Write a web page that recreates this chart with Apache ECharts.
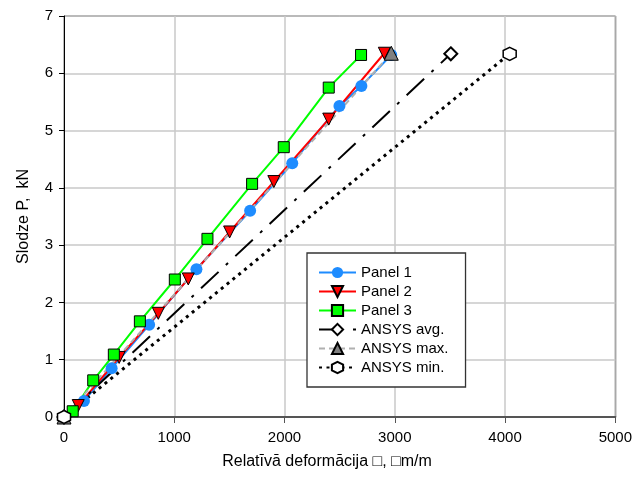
<!DOCTYPE html>
<html><head><meta charset="utf-8">
<script src="https://cdn.jsdelivr.net/npm/echarts@6/dist/echarts.min.js"></script>
<style>html,body{margin:0;padding:0;background:#fff}#c{width:635px;height:497px}</style>
</head><body><div id="c"></div>
<script>
const xTicks = [0, 1000, 2000, 3000, 4000, 5000];
const yTicks = [0, 1, 2, 3, 4, 5, 6, 7];
const seriesNames = ['Panel 1', 'Panel 2', 'Panel 3', 'ANSYS avg.', 'ANSYS max.', 'ANSYS min.'];
const panel1X = [181, 432, 772, 1201, 1688, 2070, 2498, 2697, 2968];
const panel1Y = [0.28, 0.85, 1.61, 2.58, 3.60, 4.43, 5.43, 5.78, 6.32];
const panel2X = [129, 500, 855, 1127, 1502, 1903, 2401, 2905];
const panel2Y = [0.20, 1.04, 1.81, 2.41, 3.23, 4.11, 5.20, 6.35];
const panel3X = [79, 265, 452, 688, 1005, 1301, 1706, 1993, 2401, 2694];
const panel3Y = [0.10, 0.64, 1.09, 1.67, 2.40, 3.11, 4.07, 4.71, 5.75, 6.32];
const ansysAvgX = [0, 3508];
const ansysAvgY = [0, 6.34];
const ansysMaxX = [0, 2968];
const ansysMaxY = [0, 6.35];
const ansysMinX = [0, 4042];
const ansysMinY = [0, 6.34];

const pair = (xs, ys) => xs.map((x, i) => [x, ys[i]]);
const FONT = '"Liberation Sans", Arial, sans-serif';
const hexagon = 'path://M0,-1L0.866,-0.5L0.866,0.5L0,1L-0.866,0.5L-0.866,-0.5Z';

const chart = echarts.init(document.getElementById('c'), null, {renderer: 'canvas'});
chart.setOption({
  animation: false,
  backgroundColor: '#fff',
  textStyle: {fontFamily: FONT},
  title: [{
    text: 'Relatīvā deformācija \u25A1, \u25A1m/m',
    left: 322, top: 449, textAlign: 'center',
    textStyle: {fontFamily: FONT, fontSize: 16, fontWeight: 'normal', color: '#000'}
  }],
  grid: {left: 64, right: 18, top: 16, bottom: 80, show: true, borderColor: '#222', borderWidth: 1, backgroundColor: '#fff'},
  legend: {
    orient: 'vertical', left: 307, top: 253,
    padding: [12, 17, 12, 11], itemGap: 4, itemWidth: 37, itemHeight: 14,
    backgroundColor: '#fff', borderColor: '#333', borderWidth: 1.3,
    textStyle: {fontFamily: FONT, fontSize: 15, color: '#000'},
    data: seriesNames
  },
  xAxis: {
    type: 'value', min: xTicks[0], max: xTicks[xTicks.length - 1], interval: 1000,
    axisLine: {onZero: false, lineStyle: {color: '#555', width: 2}},
    axisTick: {show: true, inside: false, length: 6, lineStyle: {color: '#555', width: 1}},
    axisLabel: {margin: 13, fontSize: 15, color: '#000', fontFamily: FONT, formatter: v => String(v)},
    splitLine: {show: true, lineStyle: {color: '#c8c8c8', width: 1.5}}
  },
  yAxis: {
    type: 'value', min: yTicks[0], max: yTicks[yTicks.length - 1], interval: 1,
    name: 'Slodze P,  kN', nameLocation: 'middle', nameGap: 32,
    nameTextStyle: {fontFamily: FONT, fontSize: 16, color: '#000'},
    axisLine: {onZero: false, lineStyle: {color: '#000', width: 1}},
    axisTick: {show: true, inside: false, length: 5, lineStyle: {color: '#000'}},
    axisLabel: {margin: 11, fontSize: 15, color: '#000', fontFamily: FONT, formatter: v => String(v)},
    splitLine: {show: true, lineStyle: {color: '#c8c8c8', width: 1.5}}
  },
  series: [
    {name: seriesNames[0], type: 'line', data: pair(panel1X, panel1Y),
     symbol: 'circle', symbolSize: 12, color: '#1E8CFF',
     lineStyle: {color: '#1E8CFF', width: 2}, itemStyle: {color: '#1E8CFF'}},
    {name: seriesNames[1], type: 'line', data: pair(panel2X, panel2Y),
     symbol: 'triangle', symbolRotate: 180, symbolSize: 12, color: '#ff0000',
     lineStyle: {color: '#ff0000', width: 2}, itemStyle: {color: '#ff0000', borderColor: '#000', borderWidth: 1}},
    {name: seriesNames[2], type: 'line', data: pair(panel3X, panel3Y),
     symbol: 'rect', symbolSize: 11, color: '#00ff00',
     lineStyle: {color: '#00ff00', width: 2}, itemStyle: {color: '#00ff00', borderColor: '#000', borderWidth: 1}},
    {name: seriesNames[3], type: 'line', data: pair(ansysAvgX, ansysAvgY),
     symbol: 'diamond', symbolSize: 13, showAllSymbol: true, color: '#000',
     lineStyle: {color: '#000', width: 2, type: [24, 10, 3, 10]},
     itemStyle: {color: '#fff', borderColor: '#000', borderWidth: 2}},
    {name: seriesNames[4], type: 'line', data: pair(ansysMaxX, ansysMaxY),
     symbol: 'triangle', symbolSize: 14, color: '#808080',
     lineStyle: {color: '#b0b0b0', width: 2, type: [6, 4]},
     itemStyle: {color: '#808080', borderColor: '#000', borderWidth: 1}},
    {name: seriesNames[5], type: 'line', data: pair(ansysMinX, ansysMinY),
     symbol: hexagon, symbolSize: 13, color: '#000',
     lineStyle: {color: '#000', width: 3, type: [3, 4.5]},
     itemStyle: {color: '#fff', borderColor: '#000', borderWidth: 1.5}}
  ]
});
</script></body></html>
